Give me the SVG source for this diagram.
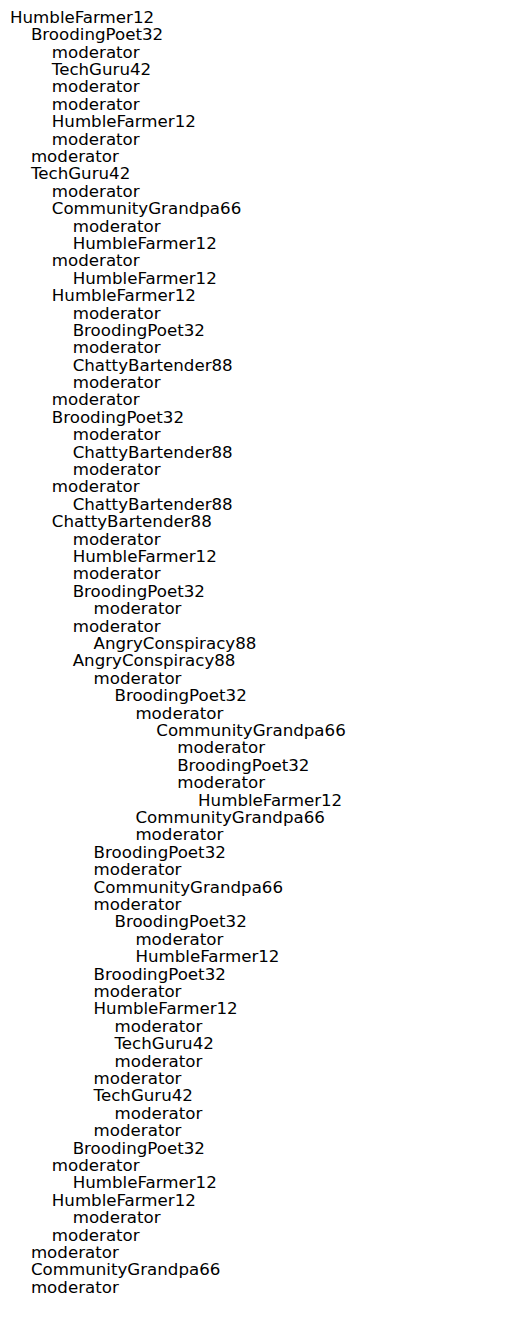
<svg xmlns="http://www.w3.org/2000/svg" width="515" height="1322" viewBox="0 0 515 1322">
<style>
text{font-family:"DejaVu Sans",sans-serif;font-size:16.67px;fill:#000}
</style>
<rect width="515" height="1322" fill="#fff"/>
<g id="connectors"/>
<g id="n0"><text x="10" y="22.7">HumbleFarmer12</text></g>
<g id="n1"><text x="30.9" y="40.1">BroodingPoet32</text></g>
<g id="n2"><text x="51.8" y="57.5">moderator</text></g>
<g id="n3"><text x="51.8" y="74.9">TechGuru42</text></g>
<g id="n4"><text x="51.8" y="92.3">moderator</text></g>
<g id="n5"><text x="51.8" y="109.7">moderator</text></g>
<g id="n6"><text x="51.8" y="127.1">HumbleFarmer12</text></g>
<g id="n7"><text x="51.8" y="144.5">moderator</text></g>
<g id="n8"><text x="30.9" y="161.9">moderator</text></g>
<g id="n9"><text x="30.9" y="179.3">TechGuru42</text></g>
<g id="n10"><text x="51.8" y="196.7">moderator</text></g>
<g id="n11"><text x="51.8" y="214.1">CommunityGrandpa66</text></g>
<g id="n12"><text x="72.7" y="231.5">moderator</text></g>
<g id="n13"><text x="72.7" y="248.9">HumbleFarmer12</text></g>
<g id="n14"><text x="51.8" y="266.3">moderator</text></g>
<g id="n15"><text x="72.7" y="283.7">HumbleFarmer12</text></g>
<g id="n16"><text x="51.8" y="301.1">HumbleFarmer12</text></g>
<g id="n17"><text x="72.7" y="318.5">moderator</text></g>
<g id="n18"><text x="72.7" y="335.9">BroodingPoet32</text></g>
<g id="n19"><text x="72.7" y="353.2">moderator</text></g>
<g id="n20"><text x="72.7" y="370.6">ChattyBartender88</text></g>
<g id="n21"><text x="72.7" y="388.0">moderator</text></g>
<g id="n22"><text x="51.8" y="405.4">moderator</text></g>
<g id="n23"><text x="51.8" y="422.8">BroodingPoet32</text></g>
<g id="n24"><text x="72.7" y="440.2">moderator</text></g>
<g id="n25"><text x="72.7" y="457.6">ChattyBartender88</text></g>
<g id="n26"><text x="72.7" y="475.0">moderator</text></g>
<g id="n27"><text x="51.8" y="492.4">moderator</text></g>
<g id="n28"><text x="72.7" y="509.8">ChattyBartender88</text></g>
<g id="n29"><text x="51.8" y="527.2">ChattyBartender88</text></g>
<g id="n30"><text x="72.7" y="544.6">moderator</text></g>
<g id="n31"><text x="72.7" y="562.0">HumbleFarmer12</text></g>
<g id="n32"><text x="72.7" y="579.4">moderator</text></g>
<g id="n33"><text x="72.7" y="596.8">BroodingPoet32</text></g>
<g id="n34"><text x="93.6" y="614.2">moderator</text></g>
<g id="n35"><text x="72.7" y="631.6">moderator</text></g>
<g id="n36"><text x="93.6" y="649.0">AngryConspiracy88</text></g>
<g id="n37"><text x="72.7" y="666.4">AngryConspiracy88</text></g>
<g id="n38"><text x="93.6" y="683.8">moderator</text></g>
<g id="n39"><text x="114.5" y="701.2">BroodingPoet32</text></g>
<g id="n40"><text x="135.4" y="718.6">moderator</text></g>
<g id="n41"><text x="156.3" y="736.0">CommunityGrandpa66</text></g>
<g id="n42"><text x="177.2" y="753.4">moderator</text></g>
<g id="n43"><text x="177.2" y="770.8">BroodingPoet32</text></g>
<g id="n44"><text x="177.2" y="788.2">moderator</text></g>
<g id="n45"><text x="198.1" y="805.6">HumbleFarmer12</text></g>
<g id="n46"><text x="135.4" y="823.0">CommunityGrandpa66</text></g>
<g id="n47"><text x="135.4" y="840.4">moderator</text></g>
<g id="n48"><text x="93.6" y="857.8">BroodingPoet32</text></g>
<g id="n49"><text x="93.6" y="875.2">moderator</text></g>
<g id="n50"><text x="93.6" y="892.6">CommunityGrandpa66</text></g>
<g id="n51"><text x="93.6" y="910.0">moderator</text></g>
<g id="n52"><text x="114.5" y="927.3">BroodingPoet32</text></g>
<g id="n53"><text x="135.4" y="944.7">moderator</text></g>
<g id="n54"><text x="135.4" y="962.1">HumbleFarmer12</text></g>
<g id="n55"><text x="93.6" y="979.5">BroodingPoet32</text></g>
<g id="n56"><text x="93.6" y="996.9">moderator</text></g>
<g id="n57"><text x="93.6" y="1014.3">HumbleFarmer12</text></g>
<g id="n58"><text x="114.5" y="1031.7">moderator</text></g>
<g id="n59"><text x="114.5" y="1049.1">TechGuru42</text></g>
<g id="n60"><text x="114.5" y="1066.5">moderator</text></g>
<g id="n61"><text x="93.6" y="1083.9">moderator</text></g>
<g id="n62"><text x="93.6" y="1101.3">TechGuru42</text></g>
<g id="n63"><text x="114.5" y="1118.7">moderator</text></g>
<g id="n64"><text x="93.6" y="1136.1">moderator</text></g>
<g id="n65"><text x="72.7" y="1153.5">BroodingPoet32</text></g>
<g id="n66"><text x="51.8" y="1170.9">moderator</text></g>
<g id="n67"><text x="72.7" y="1188.3">HumbleFarmer12</text></g>
<g id="n68"><text x="51.8" y="1205.7">HumbleFarmer12</text></g>
<g id="n69"><text x="72.7" y="1223.1">moderator</text></g>
<g id="n70"><text x="51.8" y="1240.5">moderator</text></g>
<g id="n71"><text x="30.9" y="1257.9">moderator</text></g>
<g id="n72"><text x="30.9" y="1275.3">CommunityGrandpa66</text></g>
<g id="n73"><text x="30.9" y="1292.7">moderator</text></g>
</svg>
